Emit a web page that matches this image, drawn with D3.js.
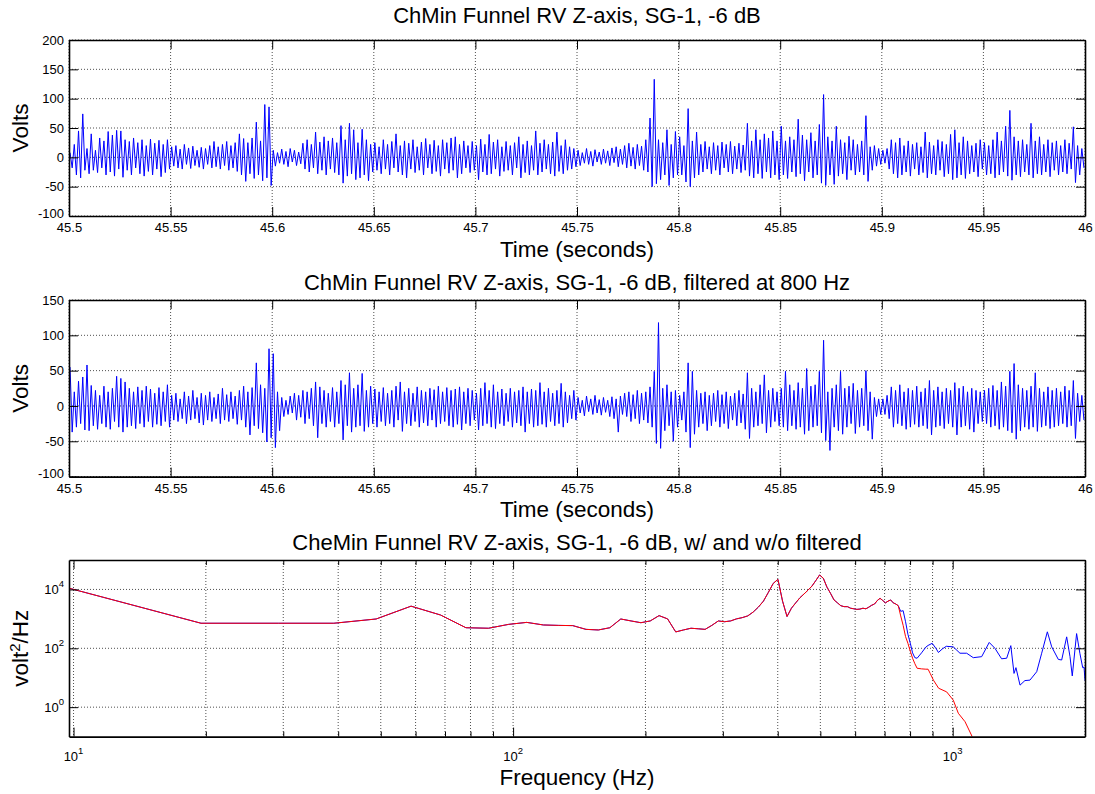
<!DOCTYPE html>
<meta charset="utf-8">
<script src="https://d3js.org/d3.v7.min.js"></script>
<style>
body { margin: 0; background: #fff; }
text { font-family: "Liberation Sans", Arial, sans-serif; fill: #000; }
</style>
<body>
<script>

// raw signal: alternating local max / min, one row per 0.05 s
var rawRows = [
  [8,-18, 22,-30, 45,-35, 74,-22, 15,-28, 40,-22, 12,-26, 33,-18, 28,-30, 44,-25, 38,-32, 46,-20, 45,-34, 30,-22, 27,-30, 33,-18, 25,-28, 30,-32, 20,-24, 31,-30, 24,-20, 29,-33, 22,-26, 30,-20],
  [18,-15, 20,-18, 14,-20, 22,-12, 16,-19, 19,-14, 12,-17, 17,-20, 15,-12, 20,-18, 27,-16, 18,-20, 22,-14, 27,-22, 20,-18, 25,-24, 40,-30, 32,-41, 25,-28, 33,-36, 60,-30, 28,-40, 90,-35, 86,-48],
  [12,-15, 8,-10, 14,-12, 10,-16, 15,-8, 12,-14, 9,-11, 24,-20, 30,-25, 22,-18, 43,-28, 26,-22, 35,-30, 28,-20, 33,-26, 25,-30, 54,-44, 30,-32, 58,-28, 47,-38, 25,-35, 48,-30, 30,-40, 22,-25],
  [25,-22, 18,-28, 30,-20, 22,-30, 27,-18, 40,-25, 20,-30, 28,-35, 24,-20, 30,-26, 18,-22, 26,-30, 32,-18, 22,-28, 29,-24, 20,-32, 30,-20, 25,-27, 33,-22, 35,-35, 22,-28, 28,-18, 20,-26, 27,-22],
  [20,-38, 31,-25, 22,-30, 39,-28, 26,-20, 30,-32, 18,-24, 27,-22, 20,-30, 25,-18, 35,-35, 22,-26, 28,-30, 20,-22, 45,-30, 24,-25, 30,-20, 22,-28, 26,-32, 43,-24, 20,-28, 30,-22, 18,-20, 15,-16],
  [12,-14, 8,-10, 15,-12, 10,-15, 13,-8, 9,-12, 14,-10, 11,-14, 16,-9, 18,-16, 14,-12, 20,-18, 24,-15, 17,-20, 22,-14, 19,-22, 30,-25, 67,-50, 133,-45, 30,-38, 25,-30, 47,-48, 22,-35, 44,-30],
  [35,-30, 20,-42, 83,-50, 28,-35, 43,-30, 22,-25, 27,-20, 18,-28, 25,-22, 20,-30, 26,-18, 22,-25, 27,-28, 19,-20, 24,-26, 21,-22, 58,-32, 28,-35, 47,-28, 30,-36, 40,-25, 33,-35, 45,-30, 28,-38],
  [53,-30, 28,-36, 35,-25, 30,-33, 65,-28, 38,-40, 30,-25, 42,-35, 28,-30, 56,-44, 107,-48, 35,-30, 28,-46, 53,-32, 30,-28, 25,-38, 36,-22, 30,-30, 22,-25, 28,-30, 71,-41, 18,-22, 20,-15, 15,-12],
  [12,-10, 15,-20, 30,-28, 25,-35, 33,-30, 20,-25, 28,-32, 22,-20, 25,-30, 18,-26, 43,-35, 26,-28, 20,-30, 30,-22, 27,-33, 22,-28, 39,-38, 47,-35, 25,-30, 35,-36, 28,-28, 20,-25, 24,-33, 30,-20],
  [25,-30, 20,-28, 30,-35, 43,-30, 28,-25, 53,-32, 80,-39, 35,-30, 28,-33, 30,-25, 22,-30, 58,-35, 28,-28, 35,-30, 22,-25, 30,-33, 25,-22, 28,-30, 20,-25, 30,-28, 24,-20, 52,-43, 20,-30, 15,-18]
];

// filtered at 800 Hz
var filtRows = [
  [55,-37, 20,-30, 35,-25, 41,-34, 58,-35, 29,-28, 22,-33, 15,-25, 28,-30, 20,-33, 25,-22, 42,-30, 39,-37, 34,-30, 25,-28, 20,-32, 27,-25, 22,-30, 28,-22, 24,-30, 18,-26, 26,-28, 20,-22, 30,-30],
  [15,-20, 18,-22, 10,-18, 20,-25, 14,-20, 22,-18, 12,-24, 18,-27, 15,-20, 20,-22, 12,-18, 17,-25, 25,-20, 16,-22, 20,-18, 14,-26, 22,-20, 28,-30, 20,-41, 26,-28, 61,-32, 30,-38, 25,-51, 81,-45],
  [74,-59, 20,-35, 12,-15, 8,-12, 14,-10, 18,-20, 15,-16, 22,-25, 20,-18, 25,-28, 34,-45, 27,-25, 22,-30, 18,-22, 26,-30, 20,-25, 36,-48, 30,-28, 47,-37, 25,-30, 30,-28, 46,-36, 22,-30, 28,-25],
  [24,-30, 20,-22, 26,-28, 18,-25, 22,-30, 28,-20, 34,-36, 20,-25, 25,-28, 18,-22, 27,-30, 22,-24, 20,-28, 25,-20, 23,-30, 28,-25, 20,-22, 26,-28, 22,-30, 24,-26, 27,-34, 20,-25, 25,-28, 22,-20],
  [18,-34, 25,-28, 33,-25, 22,-30, 30,-32, 20,-25, 24,-28, 18,-22, 25,-30, 20,-24, 22,-28, 27,-37, 20,-25, 24,-30, 22,-28, 33,-26, 20,-30, 25,-22, 18,-28, 22,-25, 32,-30, 20,-24, 15,-18, 22,-20],
  [12,-10, 8,-14, 14,-8, 10,-12, 15,-10, 9,-13, 12,-9, 8,-15, 13,-18, 10,-37, 14,-12, 18,-15, 20,-22, 16,-18, 22,-25, 18,-20, 20,-24, 27,-30, 49,-53, 118,-60, 25,-35, 30,-28, 20,-50, 22,-30],
  [15,-20, 20,-37, 61,-59, 49,-40, 22,-30, 18,-25, 20,-35, 15,-28, 18,-22, 22,-30, 16,-25, 20,-32, 14,-20, 18,-28, 22,-24, 17,-33, 47,-46, 25,-30, 20,-28, 30,-25, 44,-38, 22,-30, 25,-22, 20,-28],
  [25,-30, 49,-35, 30,-28, 22,-33, 33,-30, 25,-40, 53,-35, 28,-30, 30,-28, 49,-38, 93,-49, 20,-63, 25,-30, 30,-35, 49,-40, 25,-30, 28,-25, 32,-39, 22,-30, 25,-28, 50,-35, 20,-47, 12,-15, 10,-12],
  [10,-12, 15,-18, 27,-30, 22,-25, 30,-28, 20,-33, 25,-30, 22,-26, 28,-30, 20,-28, 25,-32, 36,-41, 22,-30, 27,-28, 20,-32, 25,-25, 22,-30, 33,-41, 25,-30, 28,-28, 20,-33, 25,-37, 22,-25, 20,-22],
  [22,-25, 25,-30, 29,-28, 22,-33, 34,-30, 28,-35, 49,-38, 60,-47, 30,-35, 25,-30, 22,-33, 28,-30, 47,-36, 25,-30, 20,-28, 27,-32, 22,-30, 25,-28, 20,-25, 28,-30, 22,-28, 36,-46, 18,-22, 15,-20]
];

var timeTicks = [45.5, 45.55, 45.6, 45.65, 45.7, 45.75, 45.8, 45.85, 45.9, 45.95, 46];
var voltTicks1 = [-100, -50, 0, 50, 100, 150, 200];
var voltTicks2 = [-100, -50, 0, 50, 100, 150];

// power spectral density, both curves identical up to ~742 Hz
var psdFreq = [9.77, 19.5, 29.3, 39.1, 48.8, 58.6, 68.4, 78.1, 87.9, 97.7, 107.4, 117.2, 127, 136.7, 146.5,
  156.3, 166, 175.8, 185.5, 195.3, 205.1, 214.8, 224.6, 234.4, 244.1, 253.9, 263.7, 273.4, 283.2, 293,
  302.7, 312.5, 322.3, 332, 341.8, 351.6, 361.3, 371.1, 380.9, 390.6, 400.4, 410.2, 419.9, 429.7, 439.5,
  449.2, 459, 468.8, 478.5, 488.3, 498, 507.8, 517.6, 527.3, 537.1, 546.9, 556.6, 566.4, 576.2, 585.9,
  595.7, 605.5, 615.2, 625, 634.8, 644.5, 654.3, 664.1, 673.8, 683.6, 693.4, 703.1, 712.9, 722.7, 732.4, 742.2];
var psdShared = [11000, 710, 710, 710, 990, 2700, 1350, 500, 480, 650, 760, 620, 600, 590, 440,
  420, 500, 990, 850, 740, 850, 1290, 1000, 360, 420, 480, 460, 440, 600, 850,
  800, 850, 1000, 1100, 1260, 1700, 2500, 4000, 8000, 16000, 22000, 4000, 1200, 2300, 3500,
  5200, 7000, 9500, 13000, 20000, 31000, 24000, 12000, 7400, 4400, 3500, 2800, 2600, 2600, 2300,
  2200, 2100, 2150, 2300, 2200, 2500, 2900, 3200, 4200, 5000, 4200, 3500, 4000, 4400, 3500, 3200];

var blueFreq = [752, 761.7, 771.5, 781.3, 791, 800.8, 810.5, 820.3, 830, 849.6, 869, 879, 898.4, 918, 928,
  947, 967, 1003, 1039, 1076, 1114, 1164, 1211, 1248, 1292, 1327, 1356, 1379, 1393, 1423, 1460, 1499,
  1553, 1594, 1642, 1680, 1739, 1770, 1817, 1849, 1871, 1914, 1947, 1976, 1990, 2000];
var bluePsd = [2800, 1800, 1900, 800, 300, 150, 70, 48, 46, 70, 110, 125, 148, 95, 72,
  95, 117, 112, 68, 68, 48, 52, 158, 100, 44, 46, 123, 14, 22, 5.6, 8, 8.3,
  16, 68, 363, 112, 42, 40, 245, 52, 11.5, 316, 68, 22, 23, 8];

var redFreq = [752, 761.7, 771.5, 781.3, 791, 800.8, 810.5, 820.3, 830, 849.6, 869, 879, 889, 904, 929,
  969, 1003, 1030, 1067, 1110];
var redPsd = [2800, 1260, 600, 250, 148, 80, 46, 30, 21, 20, 19.5, 19.5, 14, 8.3, 4.4,
  3.3, 1.74, 0.62, 0.32, 0.093];

var freqGrid = [10, 20, 30, 40, 50, 60, 70, 80, 90, 100, 200, 300, 400, 500, 600, 700, 800, 900, 1000, 2000];
var freqLabels = [10, 100, 1000];
var psdTicks = [1, 100, 10000];

var width = 1095, height = 794;
var left = 69, right = 1085;

var svg = d3.select("body").append("svg")
    .attr("width", width)
    .attr("height", height);

function flatten(rows) {
    var out = [];
    rows.forEach(function(r) { out = out.concat(r); });
    return out;
}

function drawGrid(g, x, y, xTicks, yTicks, top, bottom) {
    // dotted grid
    g.append("g").selectAll("line").data(xTicks).enter().append("line")
        .attr("x1", x).attr("x2", x).attr("y1", top).attr("y2", bottom)
        .attr("stroke", "#222").attr("stroke-width", 0.8).attr("stroke-dasharray", "1,2");
    g.append("g").selectAll("line").data(yTicks).enter().append("line")
        .attr("x1", left).attr("x2", right).attr("y1", y).attr("y2", y)
        .attr("stroke", "#222").attr("stroke-width", 0.8).attr("stroke-dasharray", "1,2");
}

function drawAxes(g, x, y, xTicks, yTicks, top, bottom, xfmt, yfmt) {
    g.append("g").attr("transform", "translate(0," + bottom + ")")
        .call(d3.axisBottom(x).tickValues(xTicks).tickSizeInner(-9).tickSizeOuter(0).tickPadding(7).tickFormat(xfmt));
    g.append("g").attr("transform", "translate(0," + top + ")")
        .call(d3.axisTop(x).tickValues(xTicks).tickSizeInner(-9).tickSizeOuter(0).tickFormat(""));
    g.append("g").attr("transform", "translate(" + left + ",0)")
        .call(d3.axisLeft(y).tickValues(yTicks).tickSizeInner(-9).tickSizeOuter(0).tickPadding(5).tickFormat(yfmt));
    g.append("g").attr("transform", "translate(" + right + ",0)")
        .call(d3.axisRight(y).tickValues(yTicks).tickSizeInner(-9).tickSizeOuter(0).tickFormat(""));
    g.selectAll(".domain").attr("stroke", "#000").attr("stroke-width", 1.6);
    g.selectAll(".tick line").attr("stroke", "#000").attr("stroke-width", 1);
    g.selectAll(".tick text").style("font-size", "13px").style("font-family", "Liberation Sans, Arial, sans-serif");
}

function timePanel(id, rows, yDomain, yTicks, top, bottom, title, titleY) {
    var volts = flatten(rows);
    var n = volts.length;
    var x = d3.scaleLinear().domain([45.5, 46]).range([left, right]);
    var y = d3.scaleLinear().domain(yDomain).range([bottom, top]);
    var g = svg.append("g");

    g.append("clipPath").attr("id", id).append("rect")
        .attr("x", left).attr("y", top).attr("width", right - left).attr("height", bottom - top);

    drawGrid(g, x, y, timeTicks, yTicks, top, bottom);

    var line = d3.line()
        .x(function(d, i) { return x(45.5 + (i + 0.5) * 0.5 / n); })
        .y(function(d) { return y(d); });
    g.append("path").datum(volts)
        .attr("clip-path", "url(#" + id + ")")
        .attr("d", line)
        .attr("fill", "none").attr("stroke", "#0000ff").attr("stroke-width", 1);

    drawAxes(g, x, y, timeTicks, yTicks, top, bottom, function(d) { return String(d); }, function(d) { return String(d); });
    // bottom-most y label sits a bit higher so it clears the first time label
    g.selectAll(".tick text").filter(function(d) { return d === -100; }).attr("dy", "0.1em");

    g.append("text").attr("x", (left + right) / 2).attr("y", titleY)
        .attr("text-anchor", "middle").style("font-size", "22px").text(title);
    g.append("text").attr("x", (left + right) / 2).attr("y", bottom + 40.5)
        .attr("text-anchor", "middle").style("font-size", "22.5px").text("Time (seconds)");
    g.append("text").attr("transform", "translate(28," + (top + bottom) / 2 + ") rotate(-90)")
        .attr("text-anchor", "middle").style("font-size", "22.5px").text("Volts");
}

timePanel("c1", rawRows, [-100, 200], voltTicks1, 40, 216, "ChMin Funnel RV Z-axis, SG-1, -6 dB", 23);
timePanel("c2", filtRows, [-100, 150], voltTicks2, 300, 476.6, "ChMin Funnel RV Z-axis, SG-1, -6 dB, filtered at 800 Hz", 290);

// spectrum panel
(function() {
    var top = 560, bottom = 736.6;
    var x = d3.scaleLog().domain([9.766, 2000]).range([left, right]);
    var y = d3.scaleLog().domain([0.1, 1e5]).range([bottom, top]);
    var g = svg.append("g");

    g.append("clipPath").attr("id", "c3").append("rect")
        .attr("x", left).attr("y", top).attr("width", right - left).attr("height", bottom - top);

    drawGrid(g, x, y, freqGrid, psdTicks, top, bottom);

    var blue = psdFreq.map(function(f, i) { return [f, psdShared[i]]; })
        .concat(blueFreq.map(function(f, i) { return [f, bluePsd[i]]; }));
    var red = psdFreq.map(function(f, i) { return [f, psdShared[i]]; })
        .concat(redFreq.map(function(f, i) { return [f, redPsd[i]]; }));
    var line = d3.line().x(function(d) { return x(d[0]); }).y(function(d) { return y(d[1]); });

    g.append("path").datum(blue).attr("clip-path", "url(#c3)").attr("d", line)
        .attr("fill", "none").attr("stroke", "#0000ff").attr("stroke-width", 1);
    g.append("path").datum(red).attr("clip-path", "url(#c3)").attr("d", line)
        .attr("fill", "none").attr("stroke", "#ff0000").attr("stroke-width", 1);

    drawAxes(g, x, y, freqGrid, psdTicks, top, bottom, function() { return ""; }, function() { return ""; });
    // minor x ticks are shorter
    g.selectAll(".tick line").filter(function(d) { return freqLabels.indexOf(d) < 0 && psdTicks.indexOf(d) < 0; })
        .attr("y2", function() { return +d3.select(this).attr("y2") > 0 ? 5 : -5; });

    // power-of-ten labels
    freqLabels.forEach(function(f) {
        var t = g.append("text").attr("x", x(f)).attr("y", bottom + 24).attr("text-anchor", "middle")
            .style("font-size", "13px");
        t.append("tspan").text("10");
        t.append("tspan").attr("dy", -7).style("font-size", "9.5px").text(String(Math.round(Math.log10(f))));
    });
    psdTicks.forEach(function(v) {
        var t = g.append("text").attr("x", left - 5).attr("y", y(v) + 5).attr("text-anchor", "end")
            .style("font-size", "13px");
        t.append("tspan").text("10");
        t.append("tspan").attr("dy", -7).style("font-size", "9.5px").text(String(Math.round(Math.log10(v))));
    });

    g.append("text").attr("x", (left + right) / 2).attr("y", 550)
        .attr("text-anchor", "middle").style("font-size", "22px")
        .text("CheMin Funnel RV Z-axis, SG-1, -6 dB, w/ and w/o filtered");
    g.append("text").attr("x", (left + right) / 2).attr("y", bottom + 48.5)
        .attr("text-anchor", "middle").style("font-size", "22.5px").text("Frequency (Hz)");
    var yl = g.append("text").attr("transform", "translate(28," + (top + bottom) / 2 + ") rotate(-90)")
        .attr("text-anchor", "middle").style("font-size", "22.5px");
    yl.append("tspan").text("volt");
    yl.append("tspan").attr("dy", -8).style("font-size", "15px").text("2");
    yl.append("tspan").attr("dy", 8).text("/Hz");
})();

</script>
</body>
</html>
